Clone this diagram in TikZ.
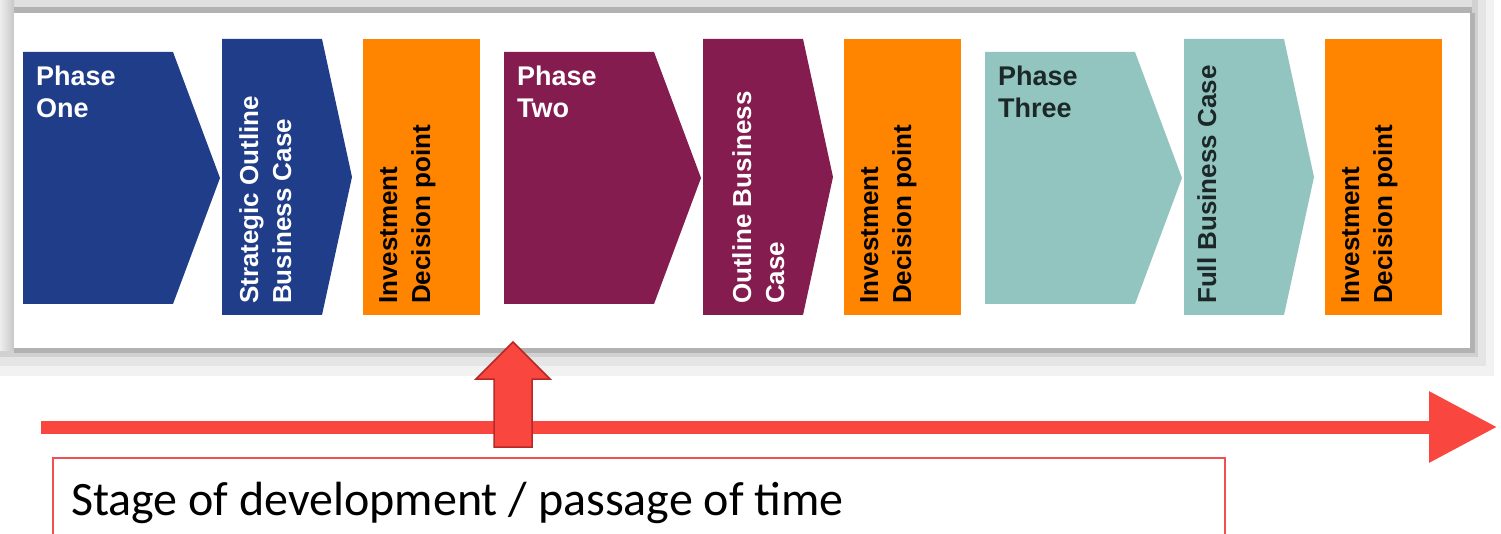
\documentclass[tikz,border=0pt]{standalone}
\usepackage{fontspec}
\setmainfont{Liberation Sans}
\newfontfamily\calib{Carlito}
\usetikzlibrary{arrows.meta}
\definecolor{navy}{RGB}{32,61,138}
\definecolor{maroon}{RGB}{133,28,80}
\definecolor{teal}{RGB}{147,197,192}
\definecolor{orng}{RGB}{255,132,0}
\definecolor{darktxt}{RGB}{28,40,40}
\definecolor{redfill}{RGB}{249,70,63}
\definecolor{rededge}{RGB}{181,42,38}
\definecolor{boxred}{RGB}{240,80,80}
\tikzset{
  phasetxt/.style={anchor=north west, inner sep=0pt, align=left,
    font=\fontsize{27}{32}\selectfont\bfseries},
  vtxt/.style={anchor=north west, inner sep=0pt, rotate=90, align=left,
    font=\fontsize{26}{33}\selectfont\bfseries},
}
\begin{document}
\begin{tikzpicture}[x=1pt,y=-1pt]
\useasboundingbox (0,0) rectangle (1501,534);
% panel frame / shadow
\fill[black!5] (0,0) rectangle (1494,376);
\fill[black!10] (0,0) rectangle (1486,366);
\fill[black!18] (0,0) rectangle (1478,357);
\fill[black!12] (0,0) rectangle (1472,7);
\fill[black!30] (0,7) rectangle (1472,13);
\shade[left color=black!7, right color=black!22] (0,0) rectangle (14,350);
\fill[black!30] (14,348) rectangle (1475,353);
\fill[black!30] (1470,13) rectangle (1475,353);
\fill[white] (14,13) rectangle (1470,348);

% phase one
\fill[navy] (23,52) -- (173,52) -- (220,178) -- (173,304) -- (23,304) -- cycle;
\fill[navy] (222,39) -- (322,39) -- (352,177) -- (322,315) -- (222,315) -- cycle;
\fill[orng] (363,39) rectangle (480,315);
\node[phasetxt, text=white] (p1) at (36,66) {Phase\\One};
\node[vtxt, text=white] (sobc) at (239,304) {Strategic Outline\\Business Case};
\node[vtxt, text=black] (idp1) at (379,304) {Investment\\Decision point};

% phase two
\fill[maroon] (504,52) -- (654,52) -- (701,178) -- (654,304) -- (504,304) -- cycle;
\fill[maroon] (703,39) -- (803,39) -- (833,177) -- (803,315) -- (703,315) -- cycle;
\fill[orng] (844,39) rectangle (961,315);
\node[phasetxt, text=white] (p2) at (517,66) {Phase\\Two};
\node[vtxt, text=white] (obc) at (732,304) {Outline Business\\Case};
\node[vtxt, text=black] (idp2) at (860,304) {Investment\\Decision point};

% phase three
\fill[teal] (985,52) -- (1135,52) -- (1182,178) -- (1135,304) -- (985,304) -- cycle;
\fill[teal] (1184,39) -- (1284,39) -- (1314,177) -- (1284,315) -- (1184,315) -- cycle;
\fill[orng] (1325,39) rectangle (1442,315);
\node[phasetxt, text=darktxt] (p3) at (998,66) {Phase\\Three};
\node[vtxt, text=darktxt] (fbc) at (1197,304) {Full Business Case};
\node[vtxt, text=black] (idp3) at (1341,304) {Investment\\Decision point};

% time arrow
\coordinate (tstart) at (41,427);
\coordinate (tend) at (1497,427);
\draw[redfill, line width=13pt, -{Triangle[length=68pt,width=68pt]}] (tstart) -- (tend);

% up arrow
\filldraw[fill=redfill, draw=rededge, line width=1.5pt, line join=miter]
  (494,447) -- (494,379) -- (476,379) -- (513,342) -- (550,379) -- (532,379) -- (532,447) -- cycle;

% label box
\draw[boxred, line width=1.2pt] (53,540) -- (53,458) -- (1225,458) -- (1225,540);
\node[anchor=base west, inner sep=0pt, font=\calib\fontsize{48}{56}\selectfont] (lab) at (71,515)
  {Stage of development / passage of time};
\end{tikzpicture}
\end{document}
